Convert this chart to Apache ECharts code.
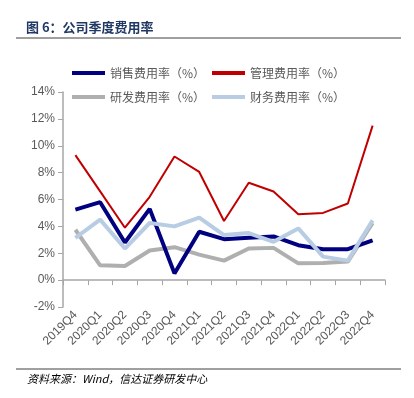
<!DOCTYPE html>
<html>
<head>
<meta charset="UTF-8">
<title>公司季度费用率</title>
<script src="https://cdn.jsdelivr.net/npm/echarts@6/dist/echarts.min.js"></script>
<style>
  html, body { margin: 0; padding: 0; background: #fff; }
  #main { width: 414px; height: 398px; }
</style>
</head>
<body>
<div id="main"></div>
<script>
// 季度
var quarters = ['2019Q4', '2020Q1', '2020Q2', '2020Q3', '2020Q4', '2021Q1', '2021Q2',
                '2021Q3', '2021Q4', '2022Q1', '2022Q2', '2022Q3', '2022Q4'];
// 费用率（%）
var salesRate   = [5.25, 5.8, 2.8, 5.3, 0.5, 3.6, 3.05, 3.15, 3.25, 2.6, 2.3, 2.3, 2.95];
var adminRate   = [9.3, 6.6, 3.9, 6.2, 9.2, 8.05, 4.4, 7.25, 6.6, 4.9, 5.0, 5.7, 11.5];
var rdRate      = [3.75, 1.1, 1.05, 2.2, 2.45, 1.9, 1.45, 2.35, 2.4, 1.25, 1.28, 1.38, 4.25];
var financeRate = [3.15, 4.5, 2.35, 4.25, 4.0, 4.65, 3.35, 3.5, 2.85, 3.85, 1.75, 1.45, 4.45];

var myChart = echarts.init(document.getElementById('main'));

var legendText = { color: '#595959', fontSize: 12, fontFamily: 'Noto Sans CJK SC' };
function oneLegend(name, left, top) {
  return {
    data: [name], left: left, top: top, itemWidth: 33, itemHeight: 4, itemGap: 0,
    icon: 'rect', textStyle: legendText, padding: 0, selectedMode: false
  };
}

myChart.setOption({
  animation: false,
  title: {
    text: '图 6：公司季度费用率',
    left: 26, top: 21, padding: 0,
    textStyle: { color: '#1F3864', fontSize: 13, fontWeight: 'bold', fontFamily: 'Noto Sans CJK SC' }
  },
  graphic: [
    { type: 'line', shape: { x1: 16, y1: 38, x2: 401, y2: 38 }, style: { stroke: '#404040', lineWidth: 1 } },
    { type: 'line', shape: { x1: 16, y1: 369, x2: 401, y2: 369 }, style: { stroke: '#404040', lineWidth: 1 } },
    { type: 'text', left: 27, top: 373,
      style: { text: '资料来源：Wind，信达证券研发中心', fill: '#000', fontSize: 11, fontStyle: 'italic',
               fontFamily: 'Noto Sans CJK SC' } }
  ],
  legend: [
    oneLegend('销售费用率（%）', 72, 67),
    oneLegend('管理费用率（%）', 212, 67),
    oneLegend('研发费用率（%）', 72, 91),
    oneLegend('财务费用率（%）', 212, 91)
  ],
  grid: { left: 63, right: 29, top: 92, bottom: 91, containLabel: false },
  xAxis: {
    type: 'category',
    data: quarters,
    boundaryGap: true,
    axisLine: { onZero: true, lineStyle: { color: '#A6A6A6', width: 1.5 } },
    axisTick: { show: true, length: 5, lineStyle: { color: '#A6A6A6' } },
    axisLabel: { rotate: 45, color: '#595959', fontSize: 12, fontFamily: 'Liberation Sans', margin: 6, interval: 0 },
    splitLine: { show: false }
  },
  yAxis: {
    type: 'value',
    min: -2, max: 14, interval: 2,
    axisLine: { show: true, lineStyle: { color: '#A6A6A6', width: 1.5 } },
    axisTick: { show: true, length: 5, inside: false, lineStyle: { color: '#A6A6A6' } },
    axisLabel: { formatter: '{value}%', color: '#595959', fontSize: 12, fontFamily: 'Liberation Sans', margin: 8 },
    splitLine: { show: false }
  },
  series: [
    { name: '研发费用率（%）', type: 'line', data: rdRate, symbol: 'none',
      lineStyle: { color: '#AFAFAF', width: 4 }, itemStyle: { color: '#AFAFAF' }, z: 2 },
    { name: '销售费用率（%）', type: 'line', data: salesRate, symbol: 'none',
      lineStyle: { color: '#000080', width: 4 }, itemStyle: { color: '#000080' }, z: 3 },
    { name: '财务费用率（%）', type: 'line', data: financeRate, symbol: 'none',
      lineStyle: { color: '#B8CCE4', width: 4 }, itemStyle: { color: '#B8CCE4' }, z: 4 },
    { name: '管理费用率（%）', type: 'line', data: adminRate, symbol: 'none',
      lineStyle: { color: '#C00000', width: 2 }, itemStyle: { color: '#C00000' }, z: 5 }
  ]
});
</script>
</body>
</html>
